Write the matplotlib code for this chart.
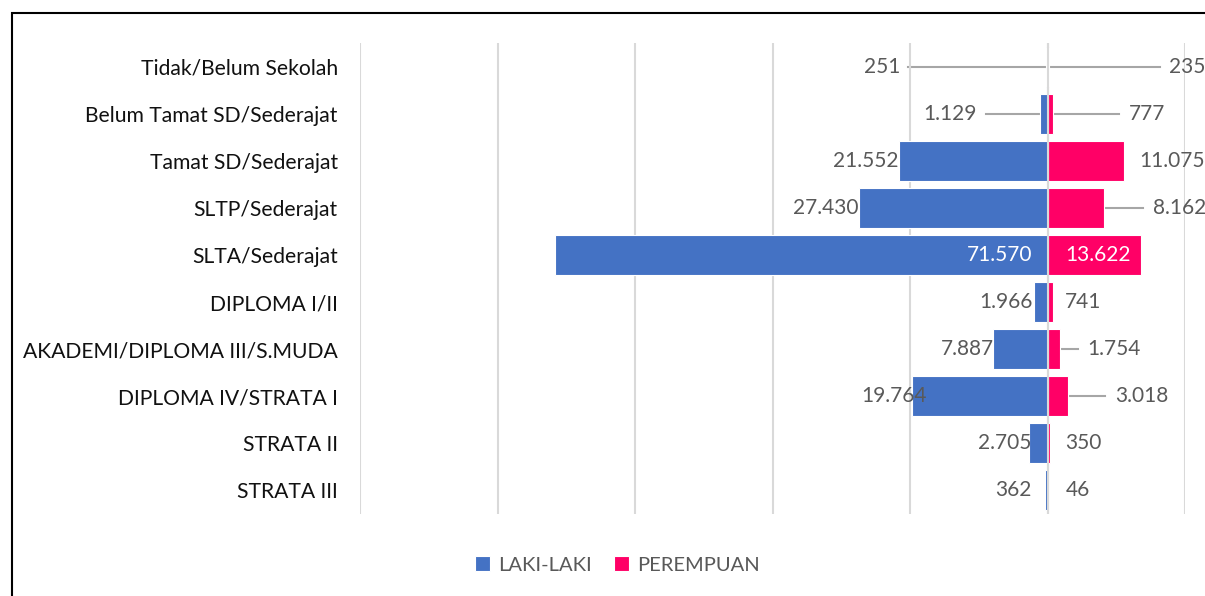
import numpy as np
import matplotlib
matplotlib.use('Agg')
import matplotlib.pyplot as plt
from matplotlib.patches import Rectangle

plt.rcParams['font.family'] = ['Lato', 'DejaVu Sans']

# data
kategori = ['Tidak/Belum Sekolah', 'Belum Tamat SD/Sederajat', 'Tamat SD/Sederajat',
            'SLTP/Sederajat', 'SLTA/Sederajat', 'DIPLOMA I/II',
            'AKADEMI/DIPLOMA III/S.MUDA', 'DIPLOMA IV/STRATA I', 'STRATA II', 'STRATA III']
laki = [251, 1129, 21552, 27430, 71570, 1966, 7887, 19764, 2705, 362]
perempuan = [235, 777, 11075, 8162, 13622, 741, 1754, 3018, 350, 46]

# posisi label (satuan data) dan garis penunjuk
laki_lbl_x = [-21400, -10300, -21600, -27500, -2200, -2200, -7800, -17500, -2300, -2300]
laki_leader = [(-20300, -300), (-9000, -1000), None, None, None, None, None, None, None, None]
pr_lbl_x = [17700, 11800, 13300, 15400, 2600, 2600, 5800, 9800, 2600, 2600]
pr_leader = [(300, 16400), (900, 10400), None, (8300, 13900), None, None, (2000, 4500), (3300, 8400), None, None]

BIRU = '#4472C4'
PINK = '#FF0066'
ABU = '#595959'

fig = plt.figure(figsize=(12.05, 5.96), dpi=100)
ax = fig.add_axes([360 / 1205, 1 - 514 / 596, (1185 - 360) / 1205, 471 / 596])

y = np.arange(len(kategori))
ax.barh(y, -np.array(laki), height=0.85, color=BIRU, edgecolor='white', linewidth=0.8, zorder=2, label='LAKI-LAKI')
ax.barh(y, perempuan, height=0.85, color=PINK, edgecolor='white', linewidth=0.8, zorder=2, label='PEREMPUAN')

ax.set_xlim(-100000, 20000)
ax.set_ylim(len(kategori) - 0.5, -0.5)
ax.set_xticks(np.arange(-100000, 20001, 20000))
ax.set_xticklabels([])
ax.grid(axis='x', color='#D9D9D9', linewidth=1.5, zorder=0)
ax.axvline(0, color='#D9D9D9', linewidth=1.5, zorder=3)
ax.set_yticks(y)
ax.set_yticklabels(kategori, fontsize=15.2, color='#111111')
ax.tick_params(length=0, pad=16)
for s in ax.spines.values():
    s.set_visible(False)

fmt = lambda v: f'{v:,}'.replace(',', '.')
for i in range(len(kategori)):
    warna = 'white' if i == 4 else ABU
    ax.text(laki_lbl_x[i], i, fmt(laki[i]), ha='right', va='center', fontsize=15, color=warna, zorder=4)
    ax.text(pr_lbl_x[i], i, fmt(perempuan[i]), ha='left', va='center', fontsize=15, color=warna, zorder=4)
    if laki_leader[i]:
        ax.plot(laki_leader[i], [i, i], color='#A6A6A6', linewidth=1.5, zorder=1)
    if pr_leader[i]:
        ax.plot(pr_leader[i], [i, i], color='#A6A6A6', linewidth=1.5, zorder=1)

leg = fig.legend(loc='center', bbox_to_anchor=(617 / 1205, 1 - 565 / 596), ncol=2, frameon=False,
                 fontsize=14.5, handlelength=0.75, handleheight=0.75, columnspacing=1.1, handletextpad=0.4)
for t in leg.get_texts():
    t.set_color(ABU)

# bingkai area grafik
fig.patches.append(Rectangle((12 / 1205, -0.1), 1.2, 1 - 13 / 596 + 0.1, transform=fig.transFigure,
                             fill=False, edgecolor='black', linewidth=1.5))

fig.savefig('out.png', dpi=100)
